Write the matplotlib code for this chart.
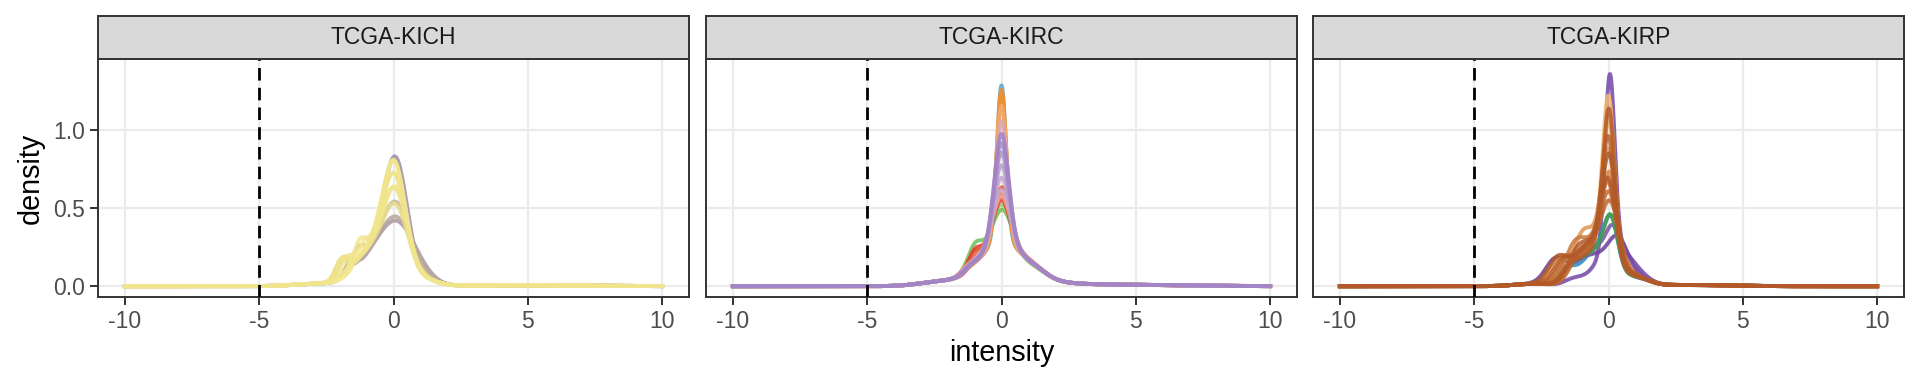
import numpy as np
import matplotlib
matplotlib.use("Agg")
import matplotlib.pyplot as plt

plt.rcParams['font.family'] = ['Liberation Sans', 'DejaVu Sans']

projects = ['TCGA-KICH', 'TCGA-KIRC', 'TCGA-KIRP']
x_ticks = [-10, -5, 0, 5, 10]
y_ticks = [0.0, 0.5, 1.0]
y_tick_labels = ['0.0', '0.5', '1.0']
cutoff = -5

# per-sample density shape: main peak, middle hump, left shoulder
kich_main_h = [0.30, 0.34, 0.66, 0.42, 0.42, 0.47, 0.50, 0.55, 0.58, 0.62, 0.52, 0.64]
kich_main_x = [0.25, 0.20, 0.10, 0.15, 0.10, 0.08, 0.10, 0.05, 0.05, 0.05, 0.10, 0.05]
kich_main_sd = [0.60, 0.56, 0.42, 0.50, 0.46, 0.45, 0.44, 0.43, 0.42, 0.42, 0.44, 0.41]
kich_mid_h = [0.20, 0.20, 0.26, 0.22, 0.22, 0.24, 0.24, 0.25, 0.24, 0.26, 0.24, 0.26]
kich_mid_x = [-0.6, -0.7, -0.6, -0.7, -0.8, -0.6, -0.7, -0.6, -0.7, -0.6, -0.8, -0.65]
kich_mid_sd = [0.70] * 12
kich_sh_h = [0.08, 0.10, 0.12, 0.12, 0.11, 0.07, 0.10, 0.08, 0.12, 0.07, 0.10, 0.12]
kich_sh_x = [-1.6, -1.3, -1.9, -1.85, -1.9, -1.5, -1.7, -1.15, -1.95, -1.4, -1.25, -1.85]
kich_sh_sd = [0.22] * 12
kich_tails = [(0.015, -2.8, 0.9), (0.04, 1.1, 0.5), (0.006, 4.5, 2.5)]
kich_colors = ['#A898A0', '#B5A69A', '#9E8CA4', '#C2B396', '#E9DC8C', '#EFE38E',
               '#F2E78F', '#F4EA92', '#EEE28A', '#F6EC96', '#F1E58D', '#F0E48C']

kirc_main_h = [0.20, 0.23, 0.26, 0.30, 0.34, 0.28, 0.99, 0.96, 0.86, 0.76, 0.32, 0.40, 0.48, 0.56, 0.62, 0.68]
kirc_main_x = [0.05, 0.0, 0.0, 0.0, 0.02, 0.0, 0.0, 0.0, 0.0, 0.0, 0.0, 0.0, 0.0, 0.0, 0.0, 0.0]
kirc_main_sd = [0.35, 0.33, 0.30, 0.30, 0.28, 0.32, 0.17, 0.18, 0.20, 0.22, 0.32, 0.30, 0.28, 0.27, 0.27, 0.26]
kirc_mid_h = [0.22] * 16
kirc_mid_x = [-0.1, -0.05, 0.0, 0.0, 0.05, 0.0, 0.0, 0.0, 0.0, 0.0, 0.0, 0.0, 0.0, 0.0, 0.0, 0.0]
kirc_mid_sd = [0.7] * 16
kirc_sh_h = [0.12, 0.09, 0.10, 0.05, 0.08, 0.04, 0.02, 0.02, 0.03, 0.03, 0.04, 0.04, 0.03, 0.03, 0.03, 0.03]
kirc_sh_x = [-1.0, -1.1, -1.0, -1.2, -0.9, -1.3, -1.2, -1.2, -1.2, -1.2, -1.1, -1.2, -1.1, -1.2, -1.1, -1.2]
kirc_sh_sd = [0.25] * 16
kirc_tails = [(0.07, 0.0, 1.4), (0.015, -2.5, 0.7), (0.04, 1.3, 0.45), (0.01, 4.0, 2.5)]
kirc_colors = ['#6DBE5A', '#8CCB6E', '#E3342F', '#F58A1F', '#EE5A3A', '#F59B8C', '#5BA6D1', '#FF8C1A',
               '#F4A868', '#D9A6B5', '#C8AED4', '#C0A4D2', '#B89CCB', '#AE92C8', '#A88BC6', '#A283C4']

kirp_main_h = [0.20, 0.28, 1.10, 0.28, 0.30, 0.98, 0.84, 0.66, 0.55, 0.45, 0.38, 0.32, 0.75, 0.90, 0.50, 0.62]
kirp_main_x = [0.35, 0.20, 0.05, 0.10, 0.10, 0.0, 0.02, 0.0, 0.05, 0.0, 0.05, 0.08, 0.0, 0.02, 0.0, 0.03]
kirp_main_sd = [0.35, 0.28, 0.18, 0.25, 0.25, 0.22, 0.23, 0.25, 0.26, 0.28, 0.30, 0.32, 0.24, 0.22, 0.27, 0.25]
kirp_mid_h = [0.20, 0.24, 0.25, 0.24, 0.22, 0.26, 0.27, 0.28, 0.28, 0.28, 0.28, 0.26, 0.27, 0.26, 0.28, 0.28]
kirp_mid_x = [-0.6, -0.5, 0.15, -0.4, -0.4, -0.3, -0.4, -0.5, -0.6, -0.5, -0.4, -0.3, -0.5, -0.3, -0.6, -0.4]
kirp_mid_sd = [0.8, 0.5, 0.6, 0.55, 0.55, 0.6, 0.6, 0.65, 0.65, 0.65, 0.6, 0.6, 0.65, 0.6, 0.65, 0.6]
kirp_sh_h = [0.13, 0.10, 0.04, 0.10, 0.10, 0.12, 0.14, 0.14, 0.13, 0.15, 0.14, 0.12, 0.13, 0.10, 0.15, 0.13]
kirp_sh_x = [-2.0, -1.5, -1.3, -1.6, -1.3, -1.2, -1.5, -1.0, -1.8, -1.3, -1.6, -1.1, -1.7, -1.4, -1.9, -1.2]
kirp_sh_sd = [0.35] * 16
kirp_tails = [(0.015, -2.8, 0.7), (0.05, 1.0, 0.5), (0.008, 3.0, 1.5)]
kirp_colors = ['#6A3D9A', '#7B4FA8', '#7446A6', '#2A88C0', '#45A04A', '#F6B969', '#EAA65A', '#DE9550',
               '#D48645', '#C9773C', '#C06C35', '#BB6530', '#B8612E', '#B45C2A', '#B15928', '#B15928']

panels = [
    (kich_main_h, kich_main_x, kich_main_sd, kich_mid_h, kich_mid_x, kich_mid_sd,
     kich_sh_h, kich_sh_x, kich_sh_sd, kich_tails, kich_colors),
    (kirc_main_h, kirc_main_x, kirc_main_sd, kirc_mid_h, kirc_mid_x, kirc_mid_sd,
     kirc_sh_h, kirc_sh_x, kirc_sh_sd, kirc_tails, kirc_colors),
    (kirp_main_h, kirp_main_x, kirp_main_sd, kirp_mid_h, kirp_mid_x, kirp_mid_sd,
     kirp_sh_h, kirp_sh_x, kirp_sh_sd, kirp_tails, kirp_colors),
]


def bump(x, h, m, s):
    return h * np.exp(-0.5 * ((x - m) / s) ** 2)


x = np.linspace(-10, 10, 2001)

fig = plt.figure(figsize=(19.2, 3.84), dpi=100)
W, H = 1920, 384
lefts = [98, 706, 1313]
pw = 591
p_top, p_bot, s_top = 59, 297, 16
ylo, yhi = -0.069, 1.452

for k, (name, p) in enumerate(zip(projects, panels)):
    mh, mx, msd, dh, dx, dsd, sh, sx, ssd, tails, cols = p
    ax = fig.add_axes([lefts[k] / W, 1 - p_bot / H, pw / W, (p_bot - p_top) / H])
    for i in range(len(mh)):
        y = bump(x, mh[i], mx[i], msd[i]) + bump(x, dh[i], dx[i], dsd[i]) + bump(x, sh[i], sx[i], ssd[i])
        for t in tails:
            y = y + bump(x, *t)
        ax.plot(x, y, color=cols[i], lw=2.8, alpha=0.85, zorder=3)
    ax.axvline(cutoff, color='black', lw=2.0, ls=(0, (4.5, 2.6)), zorder=5)
    ax.set_xlim(-11, 11)
    ax.set_ylim(ylo, yhi)
    ax.set_xticks(x_ticks)
    ax.set_xticklabels([str(v) for v in x_ticks])
    ax.set_yticks(y_ticks)
    ax.grid(True, color='#EBEBEB', lw=1.6, zorder=0)
    ax.set_axisbelow(True)
    for s in ax.spines.values():
        s.set_color('#333333')
        s.set_linewidth(1.4)
    ax.tick_params(axis='both', colors='#333333', labelcolor='#4D4D4D', labelsize=16.5,
                   length=5.5, width=1.4, pad=3.5)
    if k == 0:
        ax.set_yticklabels(y_tick_labels)
    else:
        ax.tick_params(axis='y', left=False, labelleft=False)

    sax = fig.add_axes([lefts[k] / W, 1 - p_top / H, pw / W, (p_top - s_top) / H])
    sax.set_facecolor('#D9D9D9')
    sax.set_xticks([])
    sax.set_yticks([])
    for s in sax.spines.values():
        s.set_color('#333333')
        s.set_linewidth(1.4)
    sax.text(0.5, 0.5, name, ha='center', va='center', fontsize=16.5, color='#1A1A1A',
             transform=sax.transAxes)

fig.text(31 / W, 1 - 178 / H, 'density', rotation=90, ha='center', va='center', fontsize=20.7)
fig.text((lefts[1] + pw / 2) / W, 1 - 353 / H, 'intensity', ha='center', va='center', fontsize=20.7)

fig.savefig('out.png', dpi=100)
